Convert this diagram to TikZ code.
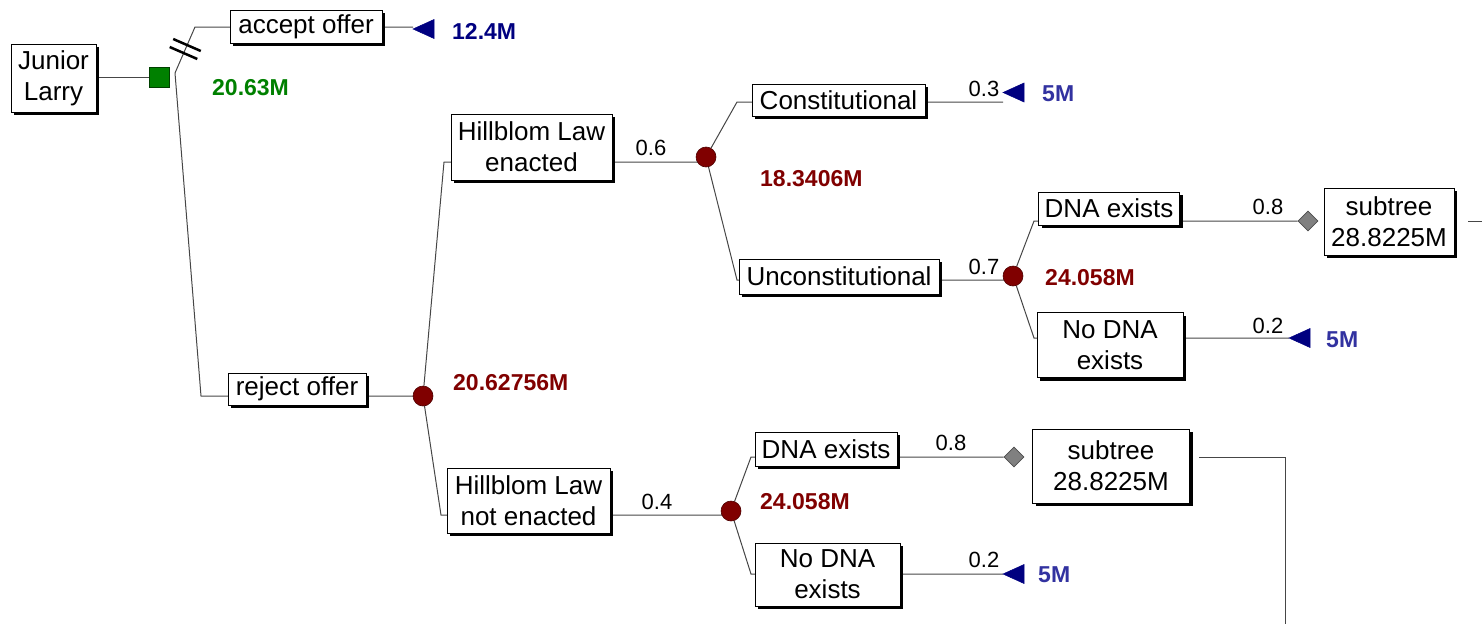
\documentclass[tikz,border=0pt]{standalone}
\usepackage{fontspec}
\setmainfont{Liberation Sans}
\usetikzlibrary{shapes.geometric,shadows,backgrounds,calc}

\definecolor{linegray}{RGB}{70,70,70}
\definecolor{decgreen}{RGB}{0,128,0}
\definecolor{chred}{RGB}{128,0,0}
\definecolor{termnavy}{RGB}{0,0,128}
\definecolor{termblue}{RGB}{50,50,160}
\definecolor{diagray}{RGB}{128,128,128}

\newcommand\bxfont{\fontsize{26}{31}\selectfont}
\newcommand\prfont{\fontsize{22}{26}\selectfont}
\newcommand\vlfont{\fontsize{23}{27}\selectfont\bfseries}

\tikzset{
  lbox/.style={draw=black, fill=white, line width=1pt, inner sep=0pt,
    align=center, font=\bxfont,
    drop shadow={shadow xshift=3pt, shadow yshift=-3pt, opacity=1, fill=black}},
  chance/.style={circle, fill=chred, draw=chred!60!black, line width=0.6pt,
    minimum size=20pt, inner sep=0pt},
  decision/.style={rectangle, fill=decgreen, draw=decgreen!50!black,
    line width=0.6pt, minimum size=20pt, inner sep=0pt},
  subnode/.style={diamond, fill=diagray, draw=diagray!60!black,
    line width=0.6pt, minimum width=20pt, minimum height=20pt, inner sep=0pt},
  br/.style={draw=linegray, line width=1pt},
  prob/.style={font=\prfont, inner sep=0pt},
  val/.style={font=\vlfont, inner sep=0pt, anchor=west},
  term/.style={fill=termnavy, draw=termnavy, line width=0.5pt, line join=miter}
}

\begin{document}
\begin{tikzpicture}[x=1pt,y=-1pt]
\useasboundingbox (0,0) rectangle (1482,624);

% ---------- decision node ----------
\node[lbox, minimum width=85pt, minimum height=68pt] (J) at (53.5,78) {Junior\\Larry};
\node[decision] (D) at (159,77) {};
\coordinate (d0) at (175,73);

% accept offer branch
\coordinate (eA) at (195,27);
\node[lbox, minimum width=152pt, minimum height=33pt] (acc) at (306,26.5) {accept offer};
\coordinate (tA) at (413,29);
\node[val, text=termnavy] (vA) at (452,31) {12.4M};
\node[val, text=decgreen] (vD) at (212,88) {20.63M};

% reject offer branch
\coordinate (eR) at (201,396);
\node[lbox, minimum width=138pt, minimum height=32pt] (rej) at (297,389) {reject offer};
\node[chance] (c0) at (423,396) {};
\node[val, text=chred] (v0) at (453,383) {20.62756M};

% ---------- Hillblom Law enacted ----------
\coordinate (eH1) at (444,162);
\node[lbox, minimum width=161pt, minimum height=66pt] (hen) at (531.5,147) {Hillblom Law\\enacted};
\node[prob] (p06) at (651,148) {0.6};
\node[chance] (c1) at (706,157) {};
\node[val, text=chred] (v1) at (760,179) {18.3406M};

\coordinate (eC) at (737,102);
\node[lbox, minimum width=173pt, minimum height=32pt] (con) at (838.5,100) {Constitutional};
\node[prob] (p03) at (984,89) {0.3};
\coordinate (tC) at (1003,92.5);
\node[val, text=termblue] (vC) at (1042,94) {5M};

\coordinate (eU) at (737,280);
\node[lbox, minimum width=200pt, minimum height=35pt] (unc) at (839,276.5) {Unconstitutional};
\node[prob] (p07) at (984,267) {0.7};
\node[chance] (c2) at (1013,276) {};
\node[val, text=chred] (v2) at (1045,278) {24.058M};

\coordinate (eD1) at (1034,221);
\node[lbox, minimum width=141pt, minimum height=33pt] (dna1) at (1109,208.5) {DNA exists};
\node[prob] (p08a) at (1268,207) {0.8};
\node[subnode] (dia1) at (1308,221) {};
\node[lbox, minimum width=130pt, minimum height=67pt] (sub1) at (1389,221.5) {subtree\\28.8225M};
\coordinate (s1a) at (1468,221);
\coordinate (s1b) at (1482,221);

\coordinate (eN1) at (1034,338);
\node[lbox, minimum width=146pt, minimum height=65pt] (nod1) at (1110,345) {No DNA\\exists};
\node[prob] (p02a) at (1268,326) {0.2};
\coordinate (tN1) at (1289,338);
\node[val, text=termblue] (vN1) at (1326,340) {5M};

% ---------- Hillblom Law not enacted ----------
\coordinate (eH2) at (441,515);
\node[lbox, minimum width=163pt, minimum height=65pt] (hnot) at (528.5,500.5) {Hillblom Law\\not enacted};
\node[prob] (p04) at (657,502) {0.4};
\node[chance] (c3) at (731,511) {};
\node[val, text=chred] (v3) at (760,502) {24.058M};

\coordinate (eD2) at (751,457);
\node[lbox, minimum width=142pt, minimum height=34pt] (dna2) at (826,449) {DNA exists};
\node[prob] (p08b) at (951,443) {0.8};
\node[subnode] (dia2) at (1014,457) {};
\node[lbox, minimum width=157pt, minimum height=74pt] (sub2) at (1111,466) {subtree\\28.8225M};
\coordinate (s2a) at (1199,457);
\coordinate (s2b) at (1285,457);
\coordinate (s2c) at (1285,624);

\coordinate (eN2) at (751,574);
\node[lbox, minimum width=145pt, minimum height=63pt] (nod2) at (827.5,574.5) {No DNA\\exists};
\node[prob] (p02b) at (984,560) {0.2};
\coordinate (tN2) at (1003,574);
\node[val, text=termblue] (vN2) at (1038,575) {5M};

% terminal markers
\foreach \t in {tA,tC,tN1,tN2}
  \path[term] (\t) -- ++(21,-9.5) -- ++(0,19) -- cycle;

% blocked-branch mark on the accept offer branch
\draw[line width=2.5pt] (173.2,39) -- (200.8,51);
\draw[line width=2.5pt] (169.7,47) -- (197.3,59);

% ---------- branches ----------
\begin{pgfonlayer}{background}
  \draw[br] (J.east |- D) -- (D);
  \draw[br] (d0) -- (eA) -- (tA |- eA);
  \draw[br] (d0) -- (eR) -- (c0 |- eR);
  \draw[br] (c0) -- (eH1) -- (c1 |- eH1);
  \draw[br] (c0) -- (eH2) -- (c3 |- eH2);
  \draw[br] (c1) -- (eC) -- (tC |- eC);
  \draw[br] (c1) -- (eU) -- (c2 |- eU);
  \draw[br] (c2) -- (eD1) -- (dia1.west);
  \draw[br] (c2) -- (eN1) -- (tN1);
  \draw[br] (s1a) -- (s1b);
  \draw[br] (c3) -- (eD2) -- (dia2.west);
  \draw[br] (c3) -- (eN2) -- (tN2);
  \draw[br] (s2a) -- (s2b) -- (s2c);
\end{pgfonlayer}
\end{tikzpicture}
\end{document}
